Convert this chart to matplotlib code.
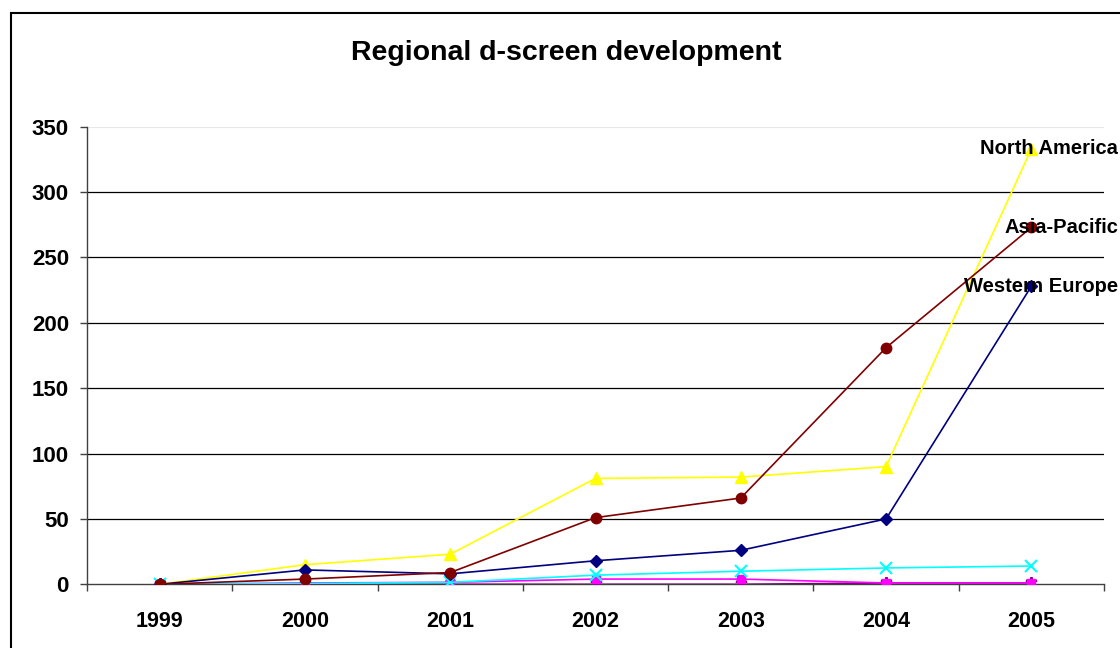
import matplotlib
matplotlib.use("Agg")
import matplotlib.pyplot as plt
import matplotlib.transforms as mtransforms
from matplotlib.patches import Rectangle

plt.rcParams['font.family'] = ['Liberation Sans', 'DejaVu Sans']

years = ["1999", "2000", "2001", "2002", "2003", "2004", "2005"]

# labelled series
north_america = [0, 15, 23, 81, 82, 90, 333]
asia_pacific = [0, 4, 9, 51, 66, 181, 273]
western_europe = [0, 11, 8, 18, 26, 50, 228]
# unlabelled series near the bottom
series_cyan = [0, 0.5, 1.5, 7, 10, 12.5, 14]
series_magenta = [0, 1, 1.5, 4, 4, 1, 1]
series_purple = [0, 0, 0, 0, 0, 1, 1]

fig = plt.figure(figsize=(11.2, 6.48), dpi=100)
ax = fig.add_axes([87 / 1120, 1 - 584.3 / 648, (1104 - 87) / 1120, (584.3 - 126.7) / 648])

x = list(range(len(years)))
lw = 1.2
ax.plot(x, series_purple, color="#800080", lw=lw, marker=(6, 2, 0), ms=9, mew=1.5, zorder=3)
ax.plot(x, series_magenta, color="#FF00FF", lw=lw, marker="s", ms=6, zorder=3)
ax.plot(x, series_cyan, color="#00FFFF", lw=lw, marker="x", ms=8, mew=1.5, zorder=3)
ax.plot(x, north_america, color="#FFFF00", lw=lw, marker="^", ms=9, zorder=4)
ax.plot(x, western_europe, color="#000080", lw=lw, marker="D", ms=6, zorder=4)
ax.plot(x, asia_pacific, color="#800000", lw=lw, marker="o", ms=7.5, zorder=5)

ax.set_xlim(-0.5, len(years) - 0.5)
ax.set_ylim(0, 350)
ax.set_yticks(range(0, 351, 50))
ax.set_xticks([i - 0.5 for i in range(len(years) + 1)])
ax.set_xticklabels([])
ax.set_xticks(x, minor=True)
ax.set_xticklabels(years, minor=True)
ax.tick_params(axis="x", which="major", direction="out", length=5, width=1, color="#404040")
ax.tick_params(axis="x", which="minor", length=0, pad=19, labelsize=15.5)
ax.tick_params(axis="y", direction="out", length=5, width=1, color="#404040", pad=8, labelsize=16)
for lab in ax.get_xticklabels(minor=True) + ax.get_yticklabels():
    lab.set_fontweight("bold")

for v in range(50, 301, 50):
    ax.axhline(v, color="black", lw=0.9, zorder=1)
ax.axhline(350, color="#e8e8e8", lw=0.8, zorder=1)

for s in ["top", "right"]:
    ax.spines[s].set_visible(False)
for s in ["left", "bottom"]:
    ax.spines[s].set_color("#404040")
    ax.spines[s].set_linewidth(1)

trans = mtransforms.blended_transform_factory(fig.transFigure, ax.transData)
labels = [("North America", north_america[-1]),
          ("Asia-Pacific", asia_pacific[-1]),
          ("Western Europe", western_europe[-1])]
for name, val in labels:
    ax.text(1118 / 1120, val, name, transform=trans, ha="right", va="center",
            fontsize=14.5, fontweight="bold", zorder=6, clip_on=False)

fig.text(566 / 1120, 1 - 53 / 648, "Regional d-screen development", ha="center", va="center",
         fontsize=20.5, fontweight="bold")

fig.patches.append(Rectangle((11 / 1120, -0.2), 2, 1.2 - 13 / 648, transform=fig.transFigure,
                             fill=False, ec="black", lw=1.5))

fig.savefig("out.png", dpi=100)
